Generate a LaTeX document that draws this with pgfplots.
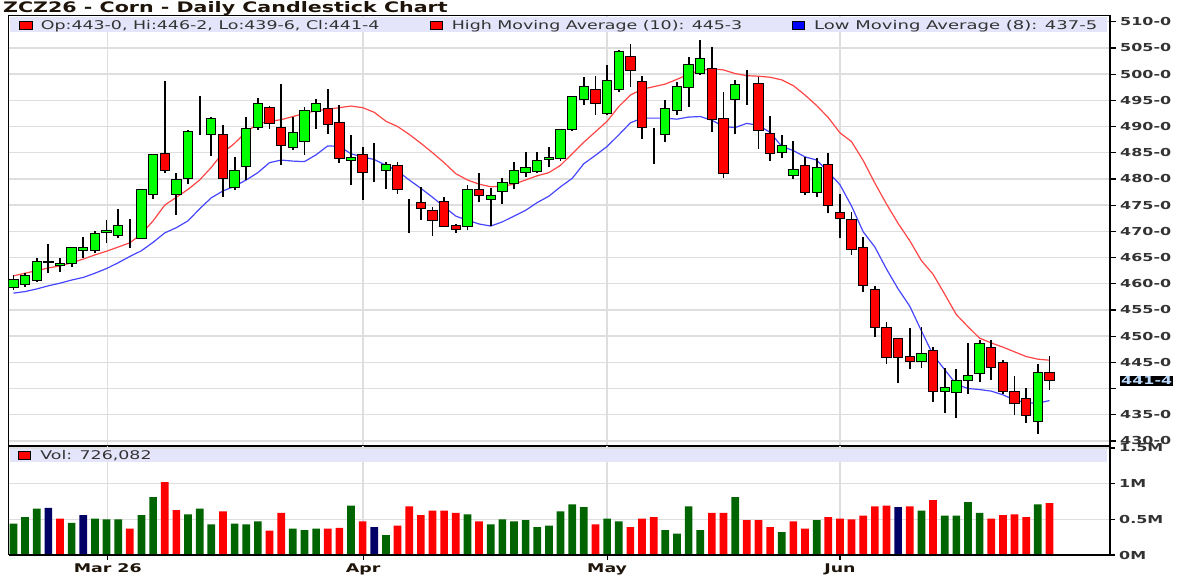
\documentclass[border=0pt]{standalone}
\usepackage{fontspec}
\setmainfont{DejaVu Sans}
\usepackage{graphicx}
\usepackage{pgfplots}
\usepackage{pgfplotstable}
\pgfplotsset{compat=1.18}

\definecolor{cgreen}{RGB}{0,255,0}
\definecolor{cred}{RGB}{255,0,0}
\definecolor{vgreen}{RGB}{0,100,0}
\definecolor{vred}{RGB}{255,0,0}
\definecolor{vnavy}{RGB}{0,0,102}
\definecolor{mared}{RGB}{255,70,70}
\definecolor{mablue}{RGB}{70,70,255}
\definecolor{gridc}{RGB}{222,222,222}
\definecolor{band}{RGB}{228,228,250}
\definecolor{txt}{RGB}{51,51,51}
\definecolor{ttl}{RGB}{30,20,10}
\definecolor{lastc}{RGB}{190,220,255}

\newcommand{\sx}[1]{\scalebox{1.45}[1]{#1}}

\pgfplotstableread{
x o h l c hma lma
0 459.3 461.6 458.8 460.8 461.5 458.2
1 459.9 462.0 459.4 461.5 462.0 458.5
2 460.7 465.0 460.4 464.3 462.5 459.0
3 464.0 467.5 462.0 464.3 463.0 459.6
4 463.4 465.0 462.3 463.9 463.4 460.1
5 463.9 467.1 463.2 466.9 464.0 460.7
6 466.4 469.0 464.9 466.9 464.7 461.2
7 466.3 470.1 465.8 469.6 465.5 462.0
8 469.7 472.1 467.7 470.1 466.2 462.9
9 469.2 474.3 468.8 471.1 467.0 464.0
10 470.2 472.3 466.9 470.2 467.8 465.2
11 468.7 478.1 468.6 477.9 469.5 466.3
12 477.0 484.7 476.1 484.6 472.0 467.9
13 484.9 498.6 481.1 481.7 475.0 469.7
14 477.0 481.1 473.2 479.8 476.5 470.7
15 480.0 489.3 479.1 489.0 478.0 472.0
16 490.0 495.8 488.4 490.0 479.8 474.3
17 488.5 491.8 484.4 491.6 482.2 476.4
18 488.4 490.3 476.6 480.0 485.0 477.7
19 478.4 484.1 477.8 481.6 486.8 478.6
20 482.3 491.8 479.8 489.6 489.0 479.8
21 489.8 495.4 489.3 494.3 490.5 481.2
22 493.7 493.9 489.5 490.6 491.0 483.1
23 489.8 498.1 482.6 486.3 491.3 483.6
24 486.0 491.9 485.5 488.9 491.9 483.4
25 487.1 493.8 484.6 493.1 492.5 483.3
26 492.8 495.2 489.6 494.3 493.0 484.6
27 493.5 497.1 488.6 490.3 493.3 486.3
28 490.8 494.1 483.1 483.9 493.6 486.2
29 483.5 488.4 478.8 484.0 493.9 484.8
30 484.6 486.1 476.0 481.2 493.6 484.2
31 481.5 486.8 479.4 481.5 492.7 483.7
32 481.6 483.3 478.0 482.8 491.0 482.6
33 482.6 483.3 477.2 478.0 490.0 481.5
34 476.0 476.2 469.6 476.0 488.5 479.8
35 475.5 478.4 472.1 474.3 486.8 478.2
36 473.9 474.7 469.1 472.1 485.0 476.5
37 475.6 476.6 470.9 471.0 483.1 474.7
38 471.1 471.4 469.7 470.4 481.0 472.9
39 471.0 478.8 470.2 477.9 479.8 472.1
40 477.9 481.1 475.6 476.8 479.0 471.4
41 476.0 478.2 471.1 476.9 478.5 471.0
42 477.6 480.1 475.3 479.3 478.6 471.8
43 479.1 483.3 478.0 481.6 479.0 472.9
44 481.2 485.2 480.4 482.2 479.8 474.0
45 481.4 485.2 481.1 483.5 480.6 475.5
46 483.7 486.1 482.3 484.1 481.2 476.7
47 483.9 489.6 483.5 489.5 482.6 478.5
48 489.5 495.9 489.2 495.8 484.8 480.1
49 495.1 499.5 494.1 497.6 487.0 482.9
50 497.0 499.6 492.2 494.3 489.0 484.5
51 492.5 501.7 492.2 498.7 491.0 486.2
52 497.1 504.6 496.5 504.4 493.8 488.4
53 503.3 505.7 497.5 500.6 496.0 490.7
54 498.5 499.6 487.7 489.8 497.1 491.6
55 489.6 489.8 482.8 489.6 497.6 491.6
56 488.4 495.1 487.1 493.5 498.1 491.6
57 493.1 498.5 492.2 497.6 499.0 491.4
58 497.5 503.2 493.7 501.9 500.0 491.8
59 500.1 506.5 499.8 502.9 500.7 491.9
60 501.1 505.2 489.0 491.4 501.0 491.2
61 491.6 496.6 480.1 481.1 500.8 490.0
62 495.2 498.9 488.6 498.0 500.1 489.8
63 497.6 500.7 494.1 497.6 499.7 490.6
64 498.2 499.4 485.7 489.3 499.6 490.2
65 488.7 492.0 483.5 484.9 499.4 488.9
66 485.0 488.4 483.9 486.3 498.9 486.2
67 480.6 487.2 480.0 481.8 497.8 485.4
68 482.6 484.2 476.9 477.5 496.0 484.2
69 477.5 483.9 476.6 482.2 494.0 483.6
70 482.8 485.0 473.4 475.0 491.7 481.3
71 473.6 477.2 468.7 472.5 488.8 478.9
72 472.3 473.6 465.5 466.6 487.1 474.8
73 466.9 468.9 458.5 459.7 483.5 469.9
74 458.9 459.6 449.8 451.7 479.2 467.0
75 451.7 452.6 444.7 445.9 475.2 462.8
76 449.6 449.7 441.0 445.9 471.5 459.0
77 446.1 451.5 443.7 445.2 468.2 455.7
78 445.2 451.7 444.0 446.7 464.4 451.0
79 447.3 448.0 437.5 439.4 461.8 446.4
80 439.4 443.9 435.3 440.2 458.0 443.6
81 439.2 443.8 434.3 441.6 454.1 440.8
82 441.5 448.6 439.0 442.4 451.8 440.0
83 442.8 449.3 441.3 448.6 449.6 439.8
84 447.8 449.3 441.6 444.0 448.7 439.5
85 444.9 445.5 439.0 439.4 447.9 438.8
86 439.4 442.4 434.9 437.2 447.0 437.8
87 438.0 440.1 433.5 434.8 446.1 437.3
88 433.7 444.6 431.4 443.0 445.6 437.2
89 443.0 446.25 439.75 441.5 445.4 437.7
}\candles

\pgfplotsset{
  chartbase/.style={scale only axis, width=1101pt, xmin=-0.38, xmax=94.2, anchor=south west},
}

\begin{document}
\begin{tikzpicture}
\useasboundingbox (0pt,0pt) rectangle (1188pt,578pt);

% ---------- price panel ----------
\begin{axis}[chartbase, at={(9pt,132pt)}, height=430pt,
  ymin=429.03, ymax=511.09,
  xtick={8.1,30.05,51,71}, xticklabels={},
  ytick={430,435,440,445,450,455,460,465,470,475,480,485,490,495,500,505,510},
  yticklabels={\sx{430-0},\sx{435-0},{},\sx{445-0},\sx{450-0},\sx{455-0},\sx{460-0},\sx{465-0},\sx{470-0},\sx{475-0},\sx{480-0},\sx{485-0},\sx{490-0},\sx{495-0},\sx{500-0},\sx{505-0},\sx{510-0}},
  ytick pos=right, yticklabel pos=right, tick align=outside,
  grid=major, major grid style={line width=1.5pt, gridc},
  x tick style={draw=none},
  y tick style={black, line width=1.2pt}, major tick length=6pt,
  axis line style={black, line width=1pt},
  yticklabel style={font=\bfseries\fontsize{11}{12}\selectfont, text=txt, anchor=west, inner sep=0pt, xshift=4pt},
  clip mode=individual,
]
\addplot[mared, line width=1.2pt] table[x=x, y=hma] {\candles};
\addplot[mablue, line width=1.2pt] table[x=x, y=lma] {\candles};
\addplot[draw=none, mark=none,
  error bars/.cd, y dir=plus, y explicit, error mark=none,
  error bar style={draw=black, line width=1.8pt}]
  table[x=x, y=l, y error plus expr=\thisrow{h}-\thisrow{l}] {\candles};
\draw[black, line width=2pt] (rel axis cs:1,0) -- (rel axis cs:1,1);
\draw[black, line width=2.5pt] (rel axis cs:0,0) -- (rel axis cs:1,0);
\node[fill=black, text=lastc, inner sep=1pt, anchor=west, xshift=10pt,
  font=\bfseries\fontsize{11}{12}\selectfont] at (axis cs:94.2,441.5) {\sx{441-4}};
\end{axis}

% ---------- candle bodies ----------
\begin{axis}[chartbase, at={(9pt,132pt)}, height=430pt,
  ymin=429.03, ymax=511.09, hide axis, ybar stacked, bar width=0.8]
\addplot[draw=none, fill=none] table[x=x, y expr={min(\thisrow{o},\thisrow{c})}] {\candles};
\addplot[fill=cgreen, draw=black, line width=1pt] table[x=x, y expr={ifthenelse(\thisrow{c}>\thisrow{o},\thisrow{c}-\thisrow{o},0)}] {\candles};
\addplot[fill=cred, draw=black, line width=1pt] table[x=x, y expr={ifthenelse(\thisrow{c}<\thisrow{o},\thisrow{o}-\thisrow{c},0)}] {\candles};
\end{axis}

% ---------- volume panel ----------
\begin{axis}[chartbase, at={(9pt,23pt)}, height=109pt,
  ymin=0, ymax=1.527,
  xtick={8.1,30.05,51,71}, xticklabels={\sx{Mar 26},\sx{Apr},\sx{May},\sx{Jun}},
  xticklabel style={font=\bfseries\fontsize{12}{13}\selectfont, text=ttl},
  ytick={0,0.5,1,1.5}, yticklabels={\sx{0M},\sx{0.5M},\sx{1M},\sx{1.5M}},
  ytick pos=right, yticklabel pos=right, xtick pos=bottom, tick align=outside,
  grid=major, major grid style={line width=1.5pt, gridc},
  tick style={black, line width=1.2pt}, major tick length=5pt,
  axis line style={black, line width=1pt},
  yticklabel style={font=\bfseries\fontsize{11}{12}\selectfont, text=txt, anchor=west, inner sep=0pt, xshift=4pt},
  ybar, bar width=0.66, bar shift=0pt,
  clip mode=individual,
]
\addplot[fill=vgreen, draw=none, bar shift=0pt] coordinates {(0,.44) (1,.53) (2,.65) (5,.45) (7,.51) (8,.50) (9,.50) (11,.56) (12,.81) (15,.57) (16,.65) (17,.43) (19,.44) (20,.43) (21,.47) (24,.37) (25,.35) (26,.37) (29,.69) (32,.28) (39,.57) (41,.43) (42,.50) (43,.47) (44,.49) (45,.39) (46,.41) (47,.61) (48,.71) (49,.67) (51,.51) (52,.47) (56,.35) (57,.30) (58,.68) (59,.35) (62,.81) (66,.32) (69,.49) (78,.62) (80,.55) (81,.55) (82,.74) (83,.59) (88,.71)};
\addplot[fill=vred, draw=none, bar shift=0pt] coordinates {(4,.51) (10,.37) (13,1.02) (14,.63) (18,.61) (22,.34) (23,.59) (27,.37) (28,.38) (30,.47) (33,.41) (34,.68) (35,.56) (36,.62) (37,.62) (38,.59) (40,.47) (50,.43) (53,.39) (54,.51) (55,.53) (60,.59) (61,.59) (63,.49) (64,.49) (65,.39) (67,.47) (68,.37) (70,.53) (71,.51) (72,.50) (73,.55) (74,.68) (75,.69) (77,.68) (79,.77) (84,.51) (85,.56) (86,.57) (87,.53) (89,.726)};
\addplot[fill=vnavy, draw=none, bar shift=0pt] coordinates {(3,.66) (6,.56) (31,.39) (76,.67)};
\draw[black, line width=2pt] (rel axis cs:1,0) -- (rel axis cs:1,1);
\draw[black, line width=2pt] (rel axis cs:0,0) -- (rel axis cs:1,0);
\end{axis}

% ---------- title and legend bands ----------
\node[anchor=base west, inner sep=0pt, font=\bfseries\fontsize{14.5}{16}\selectfont, text=ttl]
  at (3pt,565.3pt) {\scalebox{1.42}[1]{ZCZ26 - Corn - Daily Candlestick Chart}};

\fill[band] (10pt,546pt) rectangle (1107pt,561pt);
\filldraw[fill=cred, draw=black, line width=0.8pt] (19.5pt,548.5pt) rectangle (32pt,557pt);
\node[anchor=base west, inner sep=0pt, font=\fontsize{12}{13}\selectfont, text=txt]
  at (40.7pt,548.7pt) {\sx{Op:443-0, Hi:446-2, Lo:439-6, Cl:441-4}};
\filldraw[fill=cred, draw=black, line width=0.8pt] (430pt,548.5pt) rectangle (442.5pt,557pt);
\node[anchor=base west, inner sep=0pt, font=\fontsize{12}{13}\selectfont, text=txt]
  at (451.7pt,548.7pt) {\sx{High Moving Average (10): 445-3}};
\filldraw[fill=blue, draw=black, line width=0.8pt] (792pt,548.5pt) rectangle (804.5pt,557pt);
\node[anchor=base west, inner sep=0pt, font=\fontsize{12}{13}\selectfont, text=txt]
  at (814pt,548.7pt) {\scalebox{1.5}[1]{Low Moving Average (8): 437-5}};

\fill[band] (10pt,116pt) rectangle (1107pt,129pt);
\filldraw[fill=cred, draw=black, line width=0.8pt] (18pt,118.5pt) rectangle (30.5pt,126.5pt);
\node[anchor=base west, inner sep=0pt, font=\fontsize{12}{13}\selectfont, text=txt]
  at (40.2pt,118.3pt) {\sx{Vol: 726,082}};
\end{tikzpicture}
\end{document}
